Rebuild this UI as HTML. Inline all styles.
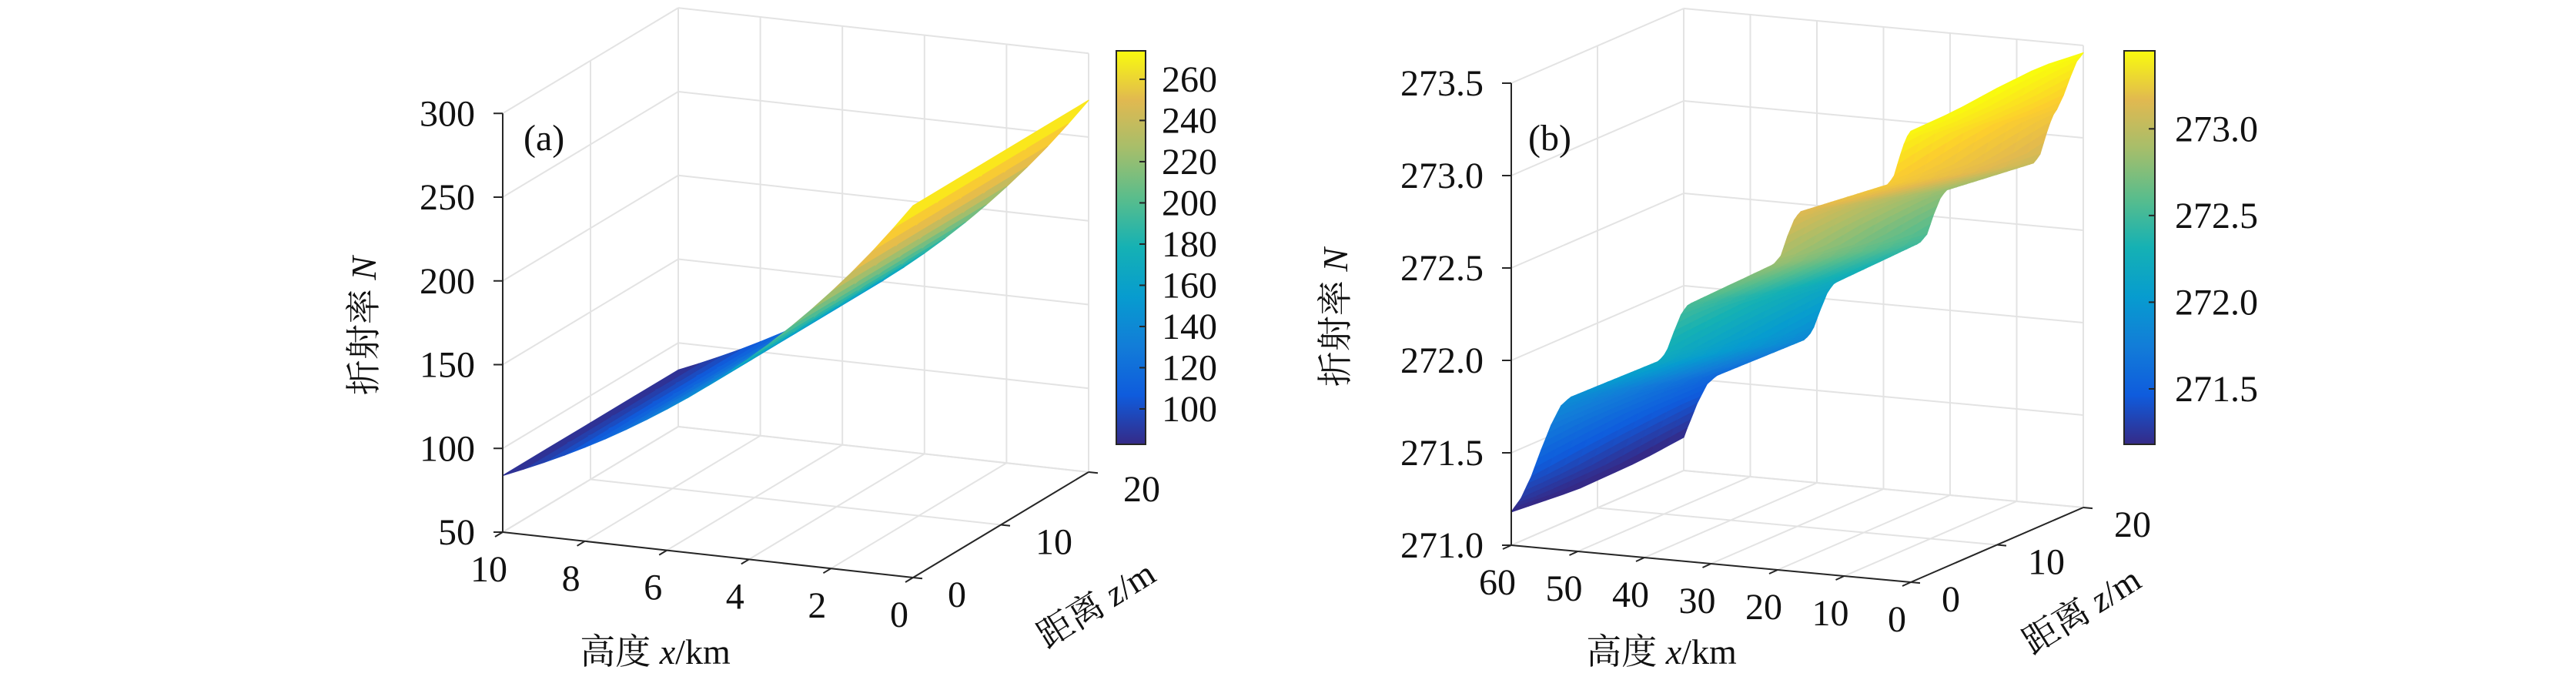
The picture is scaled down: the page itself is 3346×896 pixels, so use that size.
<!DOCTYPE html>
<html><head><meta charset="utf-8">
<style>
html,body{margin:0;padding:0;background:#fff;}
svg{display:block;}
text{font-family:"Liberation Serif","Noto Serif CJK SC",serif;fill:#111;}
.cjk{font-family:"Liberation Serif","Noto Serif CJK SC","Noto Sans CJK SC",serif;}
</style></head>
<body>
<svg id="fig" width="3346" height="896" viewBox="0 0 3346 896" xmlns="http://www.w3.org/2000/svg" font-family="Liberation Serif, Noto Serif CJK SC, serif">
<defs>
<linearGradient id="parulaGrad" x1="0" y1="1" x2="0" y2="0">
<stop offset="0" stop-color="#352a87"/><stop offset="0.125" stop-color="#0f5cdd"/>
<stop offset="0.25" stop-color="#127dd8"/><stop offset="0.375" stop-color="#079ccf"/>
<stop offset="0.5" stop-color="#15b1b4"/><stop offset="0.625" stop-color="#59bd8c"/>
<stop offset="0.75" stop-color="#a5be6b"/><stop offset="0.875" stop-color="#e1b950"/>
<stop offset="1" stop-color="#f9fb0e"/>
</linearGradient>
</defs>
<g id="panelA"></g>
<g id="panelB"></g>
</svg>
<script>
// ---------- data: panel (a) ----------
const aXValues = [0,0.5,1,1.5,2,2.5,3,3.5,4,4.5,5,5.5,6,6.5,7,7.5,8,8.5,9,9.5,10];
const aNValues = [272,256.5,241.8,228,215,202.7,191.1,180.2,169.9,160.2,151,142.4,134.3,126.6,119.4,112.5,106.1,100,94.3,88.9,83.8];
const aZValues = [0,5,10,15,20];
const aXTicks = [10,8,6,4,2,0];
const aZTicks = [0,10,20];
const aNTicks = [50,100,150,200,250,300];
const aCbTicks = [100,120,140,160,180,200,220,240,260];
// ---------- data: panel (b) ----------
const bXKnots = [64,60,58.5,57,55.5,54,52.5,51.1,37.8,36.7,35.6,34.4,33.4,20.6,19.5,18.5,17.4,16.5,3.4,2.5,1.6,0.7,0,-1,-2,-3,-4];
const bNKnots = [271.1,271.18,271.26,271.38,271.53,271.67,271.78,271.83,272.07,272.12,272.23,272.34,272.39,272.65,272.7,272.81,272.91,272.95,273.14,273.19,273.3,273.4,273.44,273.52,273.62,273.71,273.76];
const bRiserShiftPerZ = [0.2];
const bDropAtZmax = [-0.3];
const bZValues = [0,2,4,6,8,10,12,14,16,18,20];
const bXTicks = [60,50,40,30,20,10,0];
const bZTicks = [0,10,20];
const bNTicks = [271.0,271.5,272.0,272.5,273.0,273.5];
const bNTickLabels = ["271.0","271.5","272.0","272.5","273.0","273.5"];
const bCbTicks = [271.5,272.0,272.5,273.0];
const bCbTickLabels = ["271.5","272.0","272.5","273.0"];

const NS = "http://www.w3.org/2000/svg";
const PAR = [[53,42,135],[15,92,221],[18,125,216],[7,156,207],[21,177,180],[89,189,140],[165,190,107],[225,185,80],[252,206,46],[249,251,14]];
function parula(t){
  t=Math.max(0,Math.min(1,t));
  const f=t*(PAR.length-1); const i=Math.min(PAR.length-2,Math.floor(f)); const u=f-i;
  const c=PAR[i].map((v,k)=>Math.round(v+(PAR[i+1][k]-v)*u));
  return "rgb("+c.join(",")+")";
}
function el(tag, attrs, parent){
  const e=document.createElementNS(NS,tag);
  for(const k in attrs) e.setAttribute(k,attrs[k]);
  parent.appendChild(e); return e;
}
function interp(xs, ys, x){
  if(x>=xs[0]) return ys[0];
  for(let i=0;i<xs.length-1;i++){
    if(x<=xs[i] && x>=xs[i+1]){const u=(xs[i]-x)/(xs[i]-xs[i+1]); return ys[i]+(ys[i+1]-ys[i])*u;}
  }
  return ys[ys.length-1];
}

function drawPanel(g, cfg){
  const P=cfg.proj, X0=cfg.xmin, X1=cfg.xmax, Z1=cfg.zmax, N0=cfg.nmin, N1=cfg.nmax;
  const grid=el("g",{},g);
  
  
  function gl(a,b){el("line",{x1:a[0],y1:a[1],x2:b[0],y2:b[1],stroke:"#e3e3e3","stroke-width":2},grid);}
  cfg.xTicks.forEach(x=>{gl(P(x,0,N0),P(x,Z1,N0)); gl(P(x,Z1,N0),P(x,Z1,N1));});
  cfg.zTicks.forEach(z=>{gl(P(X0,z,N0),P(X1,z,N0)); gl(P(X1,z,N0),P(X1,z,N1));});
  cfg.nTicks.forEach(n=>{gl(P(X1,0,n),P(X1,Z1,n)); gl(P(X1,Z1,n),P(X0,Z1,n));});

  const surf=el("g",{},g);
  
  
  const xs=cfg.xs, zs=cfg.zs;
  for(let j=zs.length-2;j>=0;j--){
    for(let i=0;i<xs.length-1;i++){
      const c=[[xs[i],zs[j]],[xs[i+1],zs[j]],[xs[i+1],zs[j+1]],[xs[i],zs[j+1]]];
      const ns=c.map(p=>cfg.nf(p[0],p[1]));
      const pts=c.map((p,k)=>P(p[0],p[1],ns[k]));
      const avg=(ns[0]+ns[1]+ns[2]+ns[3])/4;
      const col=parula((avg-cfg.cmin)/(cfg.cmax-cfg.cmin));
      const q=el("polygon",{points:pts.map(p=>p[0].toFixed(1)+","+p[1].toFixed(1)).join(" "),fill:col,stroke:col,"stroke-width":1.2,"stroke-linejoin":"round"},surf);
      
      
    }
  }

  const ax=el("g",{stroke:"#262626","stroke-width":2,fill:"none"},g);
  
  
  function al(a,b){el("line",{x1:a[0],y1:a[1],x2:b[0],y2:b[1]},ax);}
  al(P(X1,0,N0),P(X1,0,N1));
  al(P(X1,0,N0),P(X0,0,N0));
  al(P(X0,0,N0),P(X0,Z1,N0));
  const labs=el("g",{"font-size":48,"font-family":"Liberation Serif, serif"},g);
  
  
  cfg.nTicks.forEach((n,k)=>{
    const p=P(X1,0,n); al(p,[p[0]-12,p[1]]);
    const t=el("text",{x:p[0]-36,y:p[1]+16,"text-anchor":"end"},labs);
    t.textContent=cfg.nLabels[k];
    
    
  });
  cfg.xTicks.forEach(x=>{
    const p=P(x,0,N0); al(p,[p[0]+cfg.xTickDir[0],p[1]+cfg.xTickDir[1]]);
    const t=el("text",{x:p[0]-18,y:p[1]+64,"text-anchor":"middle"},labs);
    t.textContent=String(x);
    
    
  });
  cfg.zTicks.forEach(z=>{
    const p=P(X0,z,N0); al(p,[p[0]+cfg.zTickDir[0],p[1]+cfg.zTickDir[1]]);
    const t=el("text",{x:p[0]+cfg.zLabOff,y:p[1]+38,"text-anchor":"start"},labs);
    t.textContent=String(z);
    
    
  });

  const cb=el("g",{},g);
  
  
  el("rect",{x:cfg.cbX,y:cfg.cbTop,width:cfg.cbW,height:cfg.cbBot-cfg.cbTop,fill:"url(#parulaGrad)",stroke:"#262626","stroke-width":2},cb);
  const cy=v=>cfg.cbBot-(v-cfg.cmin)/(cfg.cmax-cfg.cmin)*(cfg.cbBot-cfg.cbTop);
  cfg.cbTicks.forEach((v,k)=>{
    const y=cy(v);
    el("line",{x1:cfg.cbX+cfg.cbW-8,y1:y,x2:cfg.cbX+cfg.cbW,y2:y,stroke:"#262626","stroke-width":2},cb);
    const t=el("text",{x:cfg.cbLabX,y:y+16,"font-size":48,"font-family":"Liberation Serif, serif"},cb);
    t.textContent=cfg.cbLabels[k];
    
    
  });

  const yt=el("text",{transform:"translate("+cfg.yTitle[0]+","+cfg.yTitle[1]+") rotate(-90)","text-anchor":"middle","font-size":46,class:"cjk"},g);
  yt.innerHTML='折射率 <tspan font-style="italic">N</tspan>';
  
  
  const xt=el("text",{x:cfg.xTitle[0],y:cfg.xTitle[1],"text-anchor":"middle","font-size":46,class:"cjk"},g);
  xt.innerHTML='高度 <tspan font-style="italic">x</tspan>/km';
  
  
  const zt=el("text",{transform:"translate("+cfg.zTitle[0]+","+cfg.zTitle[1]+") rotate(-32)","text-anchor":"middle","font-size":46,class:"cjk"},g);
  zt.innerHTML='距离 <tspan font-style="italic">z</tspan>/m';
  
  
  const pl=el("text",{x:cfg.panelLab[0],y:cfg.panelLab[1],"font-size":48,"font-family":"Liberation Serif, serif"},g);
  pl.textContent=cfg.panelText;
  
  
}

drawPanel(document.getElementById("panelA"),{
  proj:(x,z,n)=>[653+53.3*(10-x)+11.4*z, 691+5.9*(10-x)-6.85*z-2.175*(n-50)],
  xmin:0,xmax:10,zmax:20,nmin:50,nmax:300,
  xs:aXValues, zs:aZValues,
  nf:(x,z)=>interp(aXValues.slice().reverse(), aNValues.slice().reverse(), x),
  xTicks:aXTicks,zTicks:aZTicks,nTicks:aNTicks,nLabels:aNTicks.map(String),
  xTickDir:[-10,6], zTickDir:[12,1.3], zLabOff:45,
  cmin:82.8,cmax:273.8, cbX:1450,cbW:38,cbTop:66,cbBot:577,cbLabX:1509,
  cbTicks:aCbTicks, cbLabels:aCbTicks.map(String),
  yTitle:[488,423], xTitle:[851,862], zTitle:[1432,798], panelLab:[680,195], panelText:"(a)"
});
drawPanel(document.getElementById("panelB"),{
  proj:(x,z,n)=>[1963+8.65*(60-x)+11.2*z, 708+0.8*(60-x)-4.85*z-240*(n-271)],
  xmin:0,xmax:60,zmax:20,nmin:271,nmax:273.5,
  xs:Array.from({length:121},(_,i)=>i*0.5), zs:bZValues,
  nf:(x,z)=>interp(bXKnots,bNKnots,x-bRiserShiftPerZ[0]*z)+bDropAtZmax[0]*z/20,
  xTicks:bXTicks,zTicks:bZTicks,nTicks:bNTicks,nLabels:bNTickLabels,
  xTickDir:[-11,5], zTickDir:[12,1.1], zLabOff:40,
  cmin:271.18,cmax:273.45, cbX:2759,cbW:40,cbTop:66,cbBot:577,cbLabX:2825,
  cbTicks:bCbTicks, cbLabels:bCbTickLabels,
  yTitle:[1750,412], xTitle:[2158,862], zTitle:[2712,806], panelLab:[1985,195], panelText:"(b)"
});
</script>
</body></html>
